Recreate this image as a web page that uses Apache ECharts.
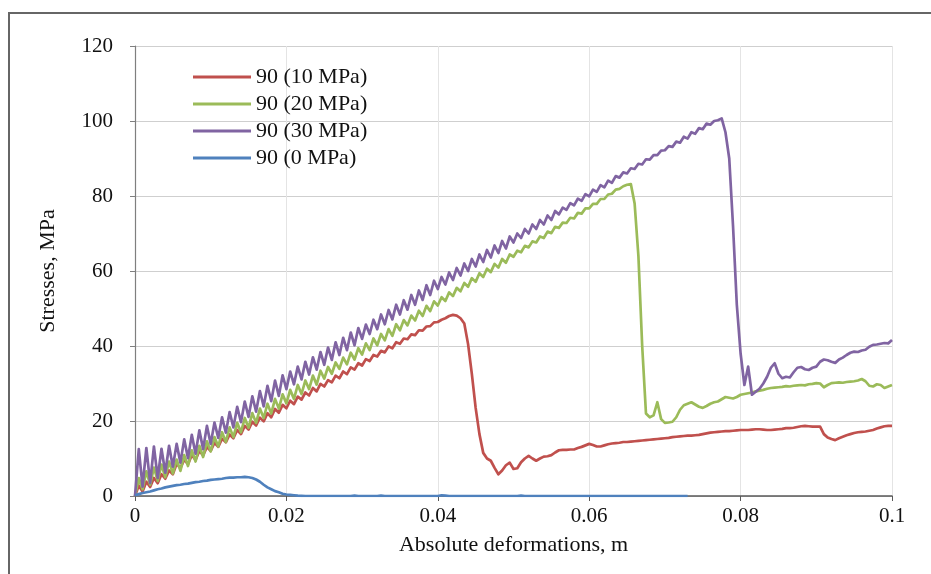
<!DOCTYPE html>
<html>
<head>
<meta charset="utf-8">
<script src="https://cdn.jsdelivr.net/npm/echarts@6/dist/echarts.min.js"></script>
<style>
html,body{margin:0;padding:0;background:#fff;}
#chart{width:931px;height:574px;}
</style>
</head>
<body>
<div id="chart"></div>
<script>
// x sample positions (m)
const xs = [
0,0.0005,0.001,0.0015,0.002,0.0025,0.003,0.0035,0.004,0.0045,
0.005,0.0055,0.006,0.0065,0.007,0.0075,0.008,0.0085,0.009,0.0095,
0.01,0.0105,0.011,0.0115,0.012,0.0125,0.013,0.0135,0.014,0.0145,
0.015,0.0155,0.016,0.0165,0.017,0.0175,0.018,0.0185,0.019,0.0195,
0.02,0.0205,0.021,0.0215,0.022,0.0225,0.023,0.0235,0.024,0.0245,
0.025,0.0255,0.026,0.0265,0.027,0.0275,0.028,0.0285,0.029,0.0295,
0.03,0.0305,0.031,0.0315,0.032,0.0325,0.033,0.0335,0.034,0.0345,
0.035,0.0355,0.036,0.0365,0.037,0.0375,0.038,0.0385,0.039,0.0395,
0.04,0.0405,0.041,0.0415,0.042,0.0425,0.043,0.0435,0.044,0.0445,
0.045,0.0455,0.046,0.0465,0.047,0.0475,0.048,0.0485,0.049,0.0495,
0.05,0.0505,0.051,0.0515,0.052,0.0525,0.053,0.0535,0.054,0.0545,
0.055,0.0555,0.056,0.0565,0.057,0.0575,0.058,0.0585,0.059,0.0595,
0.06,0.0605,0.061,0.0615,0.062,0.0625,0.063,0.0635,0.064,0.0645,
0.065,0.0655,0.066,0.0665,0.067,0.0675,0.068,0.0685,0.069,0.0695,
0.07,0.0705,0.071,0.0715,0.072,0.0725,0.073,0.0735,0.074,0.0745,
0.075,0.0755,0.076,0.0765,0.077,0.0775,0.078,0.0785,0.079,0.0795,
0.08,0.0805,0.081,0.0815,0.082,0.0825,0.083,0.0835,0.084,0.0845,
0.085,0.0855,0.086,0.0865,0.087,0.0875,0.088,0.0885,0.089,0.0895,
0.09,0.0905,0.091,0.0915,0.092,0.0925,0.093,0.0935,0.094,0.0945,
0.095,0.0955,0.096,0.0965,0.097,0.0975,0.098,0.0985,0.099,0.0995,
0.1
];

// 90 (10 MPa)
const red = [
0,2.8,1.2,3.8,2.4,4.8,3.4,5.8,4.6,6.8,
5.8,8.6,7.4,9.7,8.5,10.9,9.6,12.0,10.8,13.1,
12.0,14.2,13.1,15.3,14.3,16.4,15.4,17.6,16.5,18.7,
17.7,19.8,18.8,20.9,19.9,22.1,21.0,23.2,22.2,24.3,
23.4,25.4,24.5,26.5,25.7,27.6,26.8,28.8,27.9,29.9,
29.2,30.9,30.3,32.1,31.4,33.2,32.5,34.3,33.7,35.4,
34.8,36.5,36.0,37.6,37.2,38.7,38.3,39.9,39.4,41.0,
40.6,42.0,41.8,43.1,42.9,44.2,44.1,45.2,45.3,46.3,
46.4,47.0,47.4,48.0,48.3,48.1,47.4,46.0,40.5,32.5,
23.5,16.5,11.5,10.0,9.4,7.5,5.8,6.8,8.2,8.9,
7.2,7.4,9.0,10.0,10.7,10.0,9.4,10.0,10.5,10.6,
10.9,11.6,12.2,12.3,12.3,12.4,12.4,12.8,13.1,13.5,
13.9,13.6,13.2,13.2,13.5,13.8,14.0,14.1,14.2,14.4,
14.4,14.5,14.6,14.7,14.8,14.9,15.0,15.1,15.2,15.3,
15.4,15.5,15.7,15.8,15.9,16.0,16.1,16.1,16.2,16.3,
16.5,16.7,16.9,17.0,17.1,17.2,17.3,17.3,17.4,17.5,
17.6,17.6,17.6,17.7,17.8,17.8,17.7,17.6,17.6,17.7,
17.8,17.9,18.1,18.1,18.2,18.4,18.6,18.7,18.6,18.5,
18.5,18.5,16.5,15.6,15.2,14.9,15.4,15.8,16.2,16.5,
16.8,17.0,17.1,17.2,17.4,17.6,18.0,18.3,18.6,18.7,
18.7
];

// 90 (20 MPa)
const green = [
0,4.8,1.8,6.6,3.0,7.6,4.0,8.4,5.0,9.2,
6.0,9.7,6.7,10.9,8.0,12.2,9.2,13.4,10.4,14.6,
11.9,15.7,13.2,17.0,14.4,18.3,15.7,19.5,17.0,20.8,
18.2,22.1,19.5,23.3,20.8,24.6,22.0,25.9,23.3,27.1,
24.7,28.3,25.9,29.6,27.2,30.8,28.5,32.1,29.7,33.4,
31.3,34.4,32.6,35.6,33.9,36.9,35.1,38.2,36.4,39.4,
37.7,40.7,38.9,42.0,40.2,43.2,41.5,44.5,42.7,45.8,
44.2,46.9,45.5,48.1,46.8,49.4,48.0,50.7,49.3,51.9,
50.8,53.0,52.0,54.3,53.3,55.5,54.6,56.8,55.8,58.1,
57.1,59.4,58.4,60.6,59.7,61.9,60.9,63.2,62.2,64.4,
63.8,65.4,65.0,66.7,66.3,67.9,67.6,69.2,68.8,70.5,
70.1,71.8,71.5,72.9,72.8,74.2,74.0,75.5,75.3,76.7,
76.7,77.9,77.9,79.2,79.2,80.4,80.6,81.7,81.9,82.6,
83.0,83.2,78.0,64.0,40.0,22.0,21.0,21.5,25.0,20.5,
19.5,19.6,19.8,21.0,23.0,24.2,24.6,25.0,24.4,23.8,
23.5,24.0,24.6,25.0,25.2,25.8,26.4,26.2,26.0,26.4,
27.0,27.2,27.4,27.6,27.9,28.1,28.3,28.6,28.8,28.9,
29.0,29.1,29.3,29.2,29.4,29.5,29.6,29.5,29.8,29.9,
30.1,30.0,29.0,29.6,30.1,30.2,30.3,30.2,30.4,30.5,
30.6,30.8,31.2,30.6,29.4,29.2,29.8,29.6,28.8,29.2,
29.6
];

// 90 (30 MPa)
const purple = [
0,12.5,2.5,12.8,3.5,13.2,4.8,12.6,6.2,13.4,
7.8,13.9,8.9,15.1,10.1,16.3,11.3,17.5,12.5,18.7,
13.9,19.6,15.5,21.0,16.9,22.4,18.3,23.8,19.7,25.2,
21.1,26.6,22.5,28.0,23.9,29.4,25.3,30.8,26.7,32.2,
28.5,33.2,29.8,34.5,31.1,35.8,32.4,37.0,33.7,38.4,
35.0,39.6,36.3,41.0,37.6,42.2,38.9,43.6,40.2,44.8,
41.9,45.7,43.2,47.0,44.5,48.4,45.8,49.6,47.1,51.0,
48.4,52.2,49.7,53.6,51.0,54.8,52.3,56.2,53.6,57.4,
55.2,58.4,56.4,59.6,57.6,60.8,58.8,62.0,60.0,63.2,
61.2,64.4,62.4,65.6,63.6,66.8,64.8,68.0,66.0,69.2,
67.6,70.0,68.8,71.2,70.0,72.4,71.2,73.6,72.4,74.8,
73.6,76.0,75.1,76.9,76.3,78.1,77.5,79.3,78.7,80.5,
79.9,81.7,81.1,82.9,82.3,84.1,83.5,85.3,84.9,86.3,
86.0,87.4,87.2,88.6,88.4,89.8,89.7,90.9,90.9,92.1,
92.2,93.3,93.1,94.5,94.2,95.8,95.3,97.0,96.6,98.1,
97.8,99.3,99.0,100.0,100.2,100.7,97.0,90.0,72.0,51.0,
38.0,29.6,34.5,27.0,27.8,28.6,30.0,31.8,34.2,35.4,
32.6,31.4,31.8,31.6,33.0,34.2,34.4,33.8,33.6,34.2,
34.5,35.8,36.4,36.2,35.8,35.5,36.4,36.9,37.6,38.2,
38.5,38.4,38.8,39.0,39.8,40.3,40.4,40.6,40.8,40.7,
41.6
];

// 90 (0 MPa) — ends at 0.073 m
const blue = [
0.2,0.5,0.8,1.0,1.2,1.5,1.8,2.0,2.3,2.5,
2.7,2.9,3.0,3.2,3.3,3.5,3.7,3.8,4.0,4.1,
4.3,4.4,4.5,4.6,4.8,4.9,4.9,5.0,5.0,5.1,
5.0,4.8,4.4,3.8,3.0,2.3,1.8,1.3,1.0,0.6,
0.4,0.3,0.2,0.1,0.05,0,0,0,0,0,
0,0,0,0,0,0,0,0,0.1,0,
0,0,0,0,0,0.1,0,0,0,0,
0,0,0,0,0,0,0,0,0,0,
0,0.2,0.1,0,0,0,0,0,0,0,
0,0,0,0,0,0,0,0,0,0,
0,0,0.1,0,0,0,0,0,0,0,
0,0,0,0,0,0,0,0,0,0,
0,0,0,0,0,0,0,0,0,0,
0,0,0,0,0,0,0,0,0,0,
0,0,0,0,0,0,0
];

const seriesNames = ['90 (10 MPa)', '90 (20 MPa)', '90 (30 MPa)', '90 (0 MPa)'];
const seriesColors = ['#C0504D', '#9BBB59', '#8064A2', '#4F81BD'];
const seriesValues = [red, green, purple, blue];

const xTicks = { min: 0, max: 0.1, interval: 0.02 };
const yTicks = { min: 0, max: 120, interval: 20 };

const FONT = '"Liberation Serif", "Times New Roman", serif';

const chart = echarts.init(document.getElementById('chart'), null, { renderer: 'canvas' });

const series = seriesValues.map((vals, k) => ({
  name: seriesNames[k],
  type: 'line',
  showSymbol: false,
  symbol: 'none',
  data: vals.map((v, i) => [xs[i], v]),
  lineStyle: { width: 2.7, color: seriesColors[k], join: 'round' },
  itemStyle: { color: seriesColors[k] },
  z: 2 + k
}));

chart.setOption({
  animation: false,
  backgroundColor: '#ffffff',
  graphic: [{
    type: 'rect',
    shape: { x: 9, y: 13, width: 1000, height: 1000 },
    style: { fill: 'none', stroke: '#666666', lineWidth: 2 },
    silent: true
  }],
  grid: { left: 135, right: 39, top: 46, bottom: 78, containLabel: false },
  legend: {
    orient: 'vertical',
    left: 188,
    top: 61,
    icon: 'rect',
    itemWidth: 58,
    itemHeight: 3,
    itemGap: 5,
    data: seriesNames,
    textStyle: { fontFamily: FONT, fontSize: 22, color: '#111', lineHeight: 22 }
  },
  xAxis: {
    type: 'value',
    min: xTicks.min, max: xTicks.max, interval: xTicks.interval,
    name: 'Absolute deformations, m',
    nameLocation: 'middle',
    nameGap: 38,
    nameTextStyle: { fontFamily: FONT, fontSize: 22, color: '#111' },
    axisLine: { show: true, onZero: false, lineStyle: { color: '#595959', width: 1.5 } },
    axisTick: { show: true, length: 5, inside: false, lineStyle: { color: '#595959' } },
    axisLabel: {
      fontFamily: FONT, fontSize: 21, color: '#111', margin: 10,
      formatter: v => String(+v.toFixed(3))
    },
    splitLine: { show: true, lineStyle: { color: '#e4e4e4', width: 1 } }
  },
  yAxis: {
    type: 'value',
    min: yTicks.min, max: yTicks.max, interval: yTicks.interval,
    name: 'Stresses, MPa',
    nameLocation: 'middle',
    nameGap: 76,
    nameRotate: 90,
    nameTextStyle: { fontFamily: FONT, fontSize: 22, color: '#111' },
    axisLine: { show: true, lineStyle: { color: '#7f7f7f', width: 1.2 } },
    axisTick: { show: true, length: 5, inside: false, lineStyle: { color: '#7f7f7f' } },
    axisLabel: { fontFamily: FONT, fontSize: 21, color: '#111', margin: 22 },
    splitLine: { show: true, lineStyle: { color: '#cfcfcf', width: 1.2 } }
  },
  series: series
});
</script>
</body>
</html>
